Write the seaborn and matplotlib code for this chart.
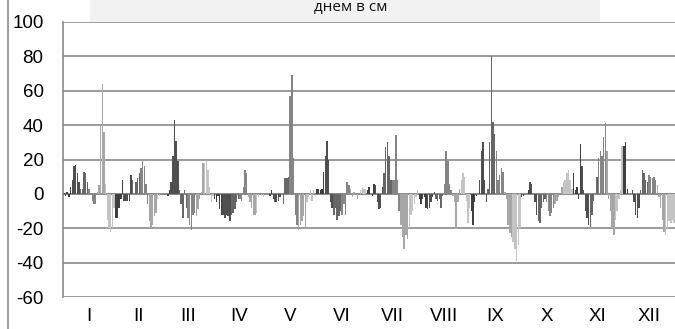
import numpy as np
import pandas as pd
import matplotlib
matplotlib.use("Agg")
import matplotlib.pyplot as plt
from matplotlib.patches import Rectangle
from matplotlib.lines import Line2D
import seaborn as sns

months = ["I", "II", "III", "IV", "V", "VI", "VII", "VIII", "IX", "X", "XI", "XII"]

jan = [0.5, -1, 1, -2, 4, 8, 16, 17, 12, 7, 3, 3, 13, 12, 7, 3, 0, -4, -6, -6,
       1, 5, 40, 64, 36, 6, -15, -20, -22, -20, -8]
feb = [-14, -14, -8, -3, 8, -4, -4, -4, -4, 11, 8, 0, 7, 9, 12, 15, 19, 16, 6, -6,
       -16, -20, -18, -13, -11, -3, -1, 0]
mar = [0, 0, 0, -1, 2, 7, 22, 43, 31, 19, 2, -6, -14, 2, -8, -14, -18, -21, -12, -11,
       -13, -9, -3, 1, 18, 18, 19, 14, 4, -5, -1]
apr = [-3, -5, -1, -9, -12, -12, -14, -12, -13, -16, -12, -11, -9, -5, -3, -3, -4, 4, 14, 12,
       -2, -5, -8, -12, -12, -11, -2, 0, -1, -2]
may = [0, 0, 0, -1, 2, -3, -5, -5, -4, -2, 0, -6, 9, 9, 10, 57, 69, 21, -12, -18,
       -21, -18, -16, -13, -19, -5, -2, 2, -4, 2, 0]
jun = [3, 3, 2, 3, 13, 22, 31, 20, -5, -8, -12, -8, -15, -13, -10, -12, -6, -12, 7, 5,
       3, -2, 1, 0, -3, 0, 2, 4, 3, 3]
jul = [2, 4, 0, -1, 6, 5, -5, -9, -8, 4, 12, 27, 30, 22, 8, 8, 8, 34, 8, -10,
       -18, -25, -32, -24, -26, -20, -12, -10, -6, -2, 2]
aug = [-3, -6, -3, -2, -8, -9, -8, -5, -2, 1, -3, -4, -3, -8, -1, 6, 25, 19, 6, 2,
       -1, -5, -20, -5, 3, 8, 12, 10, -4, -17, -8]
sep = [-10, -18, -5, -1, 0, 8, 25, 30, 8, -5, 3, 30, 80, 42, 35, 25, 8, 11, 15, 13,
       1, -3, -18, -23, -25, -28, -32, -39, -30, -20]
oct_ = [-2, -1, 0, 0, 2, 7, 6, 0, -5, -12, -16, -17, -8, -5, -3, -5, -10, -13, -11, -8,
        -6, -4, -2, 0, 4, 7, 8, 12, 14, 8, 3]
nov = [12, 2, 4, -3, 29, 16, 2, -10, -14, -18, -19, -12, -4, 0, 10, 21, 25, 22, 33, 41,
       25, -3, -10, -20, -24, -15, -10, -3, 2, 28]
dec = [28, 30, 3, 0, 0, 2, -5, -12, -14, -8, 2, 14, 12, 8, 7, 11, 10, 9, 10, 8,
       5, -2, -8, -15, -22, -24, -20, -16, -17, -15, -17]

monthly = [jan, feb, mar, apr, may, jun, jul, aug, sep, oct_, nov, dec]

# shades of grey, darker at the start of a month, lighter at the end
shades = ["#3f3f3f", "#4f4f4f", "#666666", "#858585", "#a6a6a6", "#c4c4c4"]

rows = []
for m, vals in enumerate(monthly):
    for d, v in enumerate(vals):
        rows.append({"month": months[m], "day": d + 1, "value": v})
df = pd.DataFrame(rows)
df["idx"] = np.arange(len(df))

fig = plt.figure(figsize=(6.75, 3.29), dpi=100)
ax = fig.add_axes([63 / 675, (329 - 297) / 329, 1 - 63 / 675, (297 - 22) / 329])

sns.barplot(data=df, x="idx", y="value", color="gray", width=0.85,
            linewidth=0, ax=ax, native_scale=True)

for patch, day in zip(ax.patches, df["day"]):
    patch.set_facecolor(shades[min((day - 1) // 5, 5)])
    patch.set_edgecolor("none")

ax.set_xlim(-0.5, len(df) - 0.5)
ax.set_ylim(-60, 100)
ax.set_yticks(range(-60, 101, 20))
ax.set_yticklabels([str(v) for v in range(-60, 101, 20)],
                   fontsize=13.5, family="Liberation Sans")

lengths = [len(v) for v in monthly]
starts = np.cumsum([0] + lengths[:-1])
centers = [s + n / 2 - 0.5 for s, n in zip(starts, lengths)]
ax.set_xticks(centers)
ax.set_xticklabels(months, fontsize=13.5, family="Liberation Sans")
ax.tick_params(axis="x", length=0, pad=8)
ax.tick_params(axis="y", length=0, pad=14)

ax.yaxis.grid(True, color="#8a8a8a", linewidth=1.2)
ax.set_axisbelow(True)
ax.set_xlabel("")
ax.set_ylabel("")
for s in ["top", "right", "bottom"]:
    ax.spines[s].set_visible(False)
ax.spines["left"].set_color("#8a8a8a")
ax.spines["left"].set_linewidth(1.2)
ax.axhline(0, color="#8a8a8a", linewidth=1.2, zorder=0.5)

# chart border on the left edge
fig.add_artist(Line2D([8 / 675, 8 / 675], [0, 1], color="#8a8a8a", linewidth=1.2))

# title strip (partly cut at the top)
fig.add_artist(Rectangle((90 / 675, 1 - 22 / 329), (600 - 90) / 675, 22 / 329,
                         facecolor="#f2f2f2", edgecolor="none", zorder=5))
fig.text(351 / 675, 1 - 7 / 329, "днем в см", ha="center", va="center",
         fontsize=11, family="Open Sans", color="#111111", zorder=6)

fig.savefig("out.png", dpi=100)
